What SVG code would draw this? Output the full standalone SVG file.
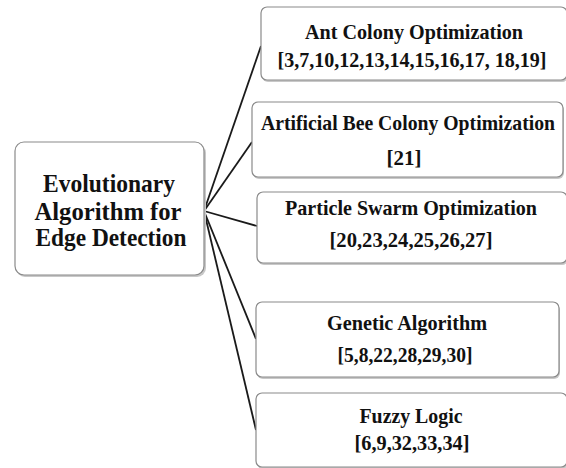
<svg xmlns="http://www.w3.org/2000/svg" width="566" height="468" viewBox="0 0 566 468">
<style>
.box{fill:#fff;stroke:#8a8a8a;stroke-width:1.2}
.sh{fill:#c8c8c8}
.t{font-family:"Liberation Serif","Times New Roman",serif;font-weight:bold;fill:#111;text-anchor:middle}
.s{font-size:21px}
.c{font-size:26px}
.ln{stroke:#1a1a1a;stroke-width:1.8;fill:none}
</style>
<rect width="566" height="468" fill="#fff"/>
<g id="connectors">
<line class="ln" x1="204" y1="211" x2="261" y2="46"/>
<line class="ln" x1="204" y1="211" x2="252" y2="142"/>
<line class="ln" x1="204" y1="211" x2="257" y2="226"/>
<line class="ln" x1="204" y1="211" x2="256" y2="339"/>
<line class="ln" x1="204" y1="211" x2="256" y2="430"/>
</g>
<g id="central">
<rect class="sh" x="16" y="144" width="190" height="133" rx="9"/>
<rect class="box" x="15" y="142" width="189" height="133" rx="9"/>
<text class="t c" x="109" y="192" textLength="132" lengthAdjust="spacingAndGlyphs">Evolutionary</text>
<text class="t c" x="108" y="220" textLength="147" lengthAdjust="spacingAndGlyphs">Algorithm for</text>
<text class="t c" x="111" y="246" textLength="151" lengthAdjust="spacingAndGlyphs">Edge Detection</text>
</g>
<g id="ant">
<rect class="sh" x="262" y="9" width="306" height="73" rx="6"/>
<rect class="box" x="261" y="7" width="306" height="73" rx="6"/>
<text class="t s" x="414" y="39" textLength="218" lengthAdjust="spacingAndGlyphs">Ant Colony Optimization</text>
<text class="t s" x="412" y="67" textLength="269" lengthAdjust="spacingAndGlyphs">[3,7,10,12,13,14,15,16,17, 18,19]</text>
</g>
<g id="bee">
<rect class="sh" x="253" y="104" width="311" height="75" rx="6"/>
<rect class="box" x="252" y="102" width="311" height="75" rx="6"/>
<text class="t s" x="408" y="130" textLength="294" lengthAdjust="spacingAndGlyphs">Artificial Bee Colony Optimization</text>
<text class="t s" x="404" y="165" textLength="35" lengthAdjust="spacingAndGlyphs">[21]</text>
</g>
<g id="pso">
<rect class="sh" x="258" y="194" width="310" height="71" rx="6"/>
<rect class="box" x="257" y="192" width="310" height="71" rx="6"/>
<text class="t s" x="411" y="215" textLength="252" lengthAdjust="spacingAndGlyphs">Particle Swarm Optimization</text>
<text class="t s" x="411" y="247" textLength="163" lengthAdjust="spacingAndGlyphs">[20,23,24,25,26,27]</text>
</g>
<g id="ga">
<rect class="sh" x="257" y="304" width="303" height="75" rx="6"/>
<rect class="box" x="256" y="302" width="303" height="75" rx="6"/>
<text class="t s" x="407" y="330" textLength="160" lengthAdjust="spacingAndGlyphs">Genetic Algorithm</text>
<text class="t s" x="405" y="362" textLength="135" lengthAdjust="spacingAndGlyphs">[5,8,22,28,29,30]</text>
</g>
<g id="fuzzy">
<rect class="sh" x="257" y="395" width="311" height="74" rx="6"/>
<rect class="box" x="256" y="393" width="311" height="74" rx="6"/>
<text class="t s" x="411" y="423" textLength="103" lengthAdjust="spacingAndGlyphs">Fuzzy Logic</text>
<text class="t s" x="412" y="450" textLength="115" lengthAdjust="spacingAndGlyphs">[6,9,32,33,34]</text>
</g>
</svg>
